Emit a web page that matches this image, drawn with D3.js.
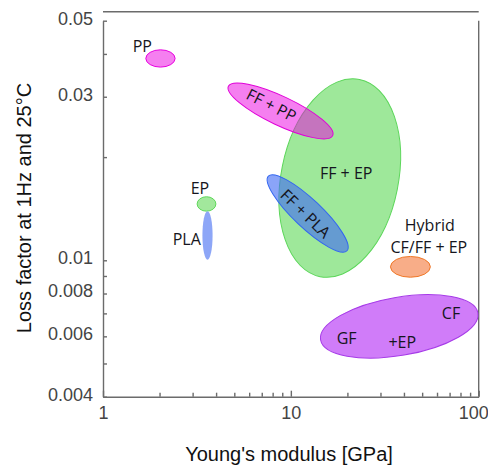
<!DOCTYPE html>
<html>
<head>
<meta charset="utf-8">
<script src="https://cdn.jsdelivr.net/npm/d3@7"></script>
<style>
  body { margin: 0; background: #fff; }
  svg { display: block; }
  .tick text { font-family: 'Liberation Sans', Arial, sans-serif; font-size: 18px; fill: #444; }
  .lbl { font-family: 'Open Sans', sans-serif; font-size: 16px; fill: #151520; }
  .title { font-family: 'Liberation Sans', Arial, sans-serif; font-size: 20px; fill: #111; }
</style>
</head>
<body>
<svg id="chart"></svg>
<script>
// material regions, each an ellipse given by the two ends of its long axis
const regions = ['FF + EP', 'PP', 'FF + PP', 'FF + PLA', 'EP', 'PLA', 'Hybrid', 'GF/CF + EP'];
const modulusA = [23.2, 1.69, 4.65, 7.59, 3.17, 3.6, 33.9, 14.4];
const lossA = [0.0337, 0.0388, 0.0322, 0.0176, 0.0146, 0.0139, 0.00957, 0.00586];
const modulusB = [14.3, 2.42, 16.7, 19.9, 3.99, 3.6, 55.3, 99.0];
const lossB = [0.00896, 0.0388, 0.0231, 0.01066, 0.0146, 0.01004, 0.00957, 0.00702];
const widthRatio = [0.583, 0.59, 0.25, 0.26, 0.77, 0.21, 0.52, 0.365];

// text annotations
const labelText = ['PP', 'EP', 'PLA', 'FF + EP', 'FF + PP', 'FF + PLA', 'Hybrid', 'CF/FF + EP', 'CF', 'GF', '+EP'];
const labelModulus = [1.62, 3.28, 2.79, 19.7, 7.89, 12.0, 54.9, 54.3, 71.2, 19.8, 39.2];
const labelLoss = [0.0421, 0.0163, 0.0115, 0.018, 0.0284, 0.0137, 0.0127, 0.01095, 0.007, 0.00592, 0.00577];
const labelAngle = [0, 0, 0, 0, 27, 44, 0, 0, 0, 0, 0];

const xLabeled = [1, 10, 100];
const yLabeled = [0.05, 0.03, 0.01, 0.008, 0.006, 0.004];

const styles = [
  { fill: '#9ee89a', stroke: '#5cd65a', opacity: 1 },
  { fill: 'rgb(235,0,225)', stroke: '#e800e0', opacity: 0.5 },
  { fill: 'rgb(235,0,225)', stroke: '#e000d8', opacity: 0.5 },
  { fill: 'rgb(66,108,244)', stroke: '#3366f0', opacity: 0.62 },
  { fill: '#a2e89c', stroke: '#5fd85a', opacity: 1 },
  { fill: '#8da6f7', stroke: 'none', opacity: 1 },
  { fill: '#f8ad88', stroke: '#f07828', opacity: 1 },
  { fill: '#d07cf9', stroke: '#a63ae8', opacity: 1 },
];

const width = 488, height = 468;
const margin = { top: 20.7, right: 9.3, bottom: 71.3, left: 103 };

const svg = d3.select('#chart').attr('width', width).attr('height', height);

const x = d3.scaleLog()
  .domain([1, 100])
  .range([margin.left, width - margin.right]);

const y = d3.scaleLog()
  .domain([0.004, 0.05])
  .range([height - margin.bottom, margin.top]);

const axisColor = '#6b6b6b';

// frame
svg.append('line')
  .attr('x1', x(1)).attr('x2', x(100))
  .attr('y1', margin.top - 9).attr('y2', margin.top - 9)
  .attr('stroke', axisColor).attr('stroke-width', 1.4);
svg.append('line')
  .attr('x1', x(100)).attr('x2', x(100))
  .attr('y1', y(0.05)).attr('y2', y(0.004))
  .attr('stroke', axisColor).attr('stroke-width', 1.4);

// ellipses
const shapes = regions.map((name, i) => {
  const x1 = x(modulusA[i]), y1 = y(lossA[i]);
  const x2 = x(modulusB[i]), y2 = y(lossB[i]);
  const a = Math.hypot(x2 - x1, y2 - y1) / 2;
  return {
    name,
    cx: (x1 + x2) / 2,
    cy: (y1 + y2) / 2,
    a,
    b: a * widthRatio[i],
    angle: Math.atan2(y2 - y1, x2 - x1) * 180 / Math.PI,
    style: styles[i],
  };
});

svg.append('g')
  .selectAll('ellipse')
  .data(shapes)
  .join('ellipse')
  .attr('cx', d => d.cx)
  .attr('cy', d => d.cy)
  .attr('rx', d => d.a)
  .attr('ry', d => d.b)
  .attr('transform', d => `rotate(${d.angle} ${d.cx} ${d.cy})`)
  .attr('fill', d => d.style.fill)
  .attr('fill-opacity', d => d.style.opacity)
  .attr('stroke', d => d.style.stroke)
  .attr('stroke-width', 1);

// axes
const xAxis = svg.append('g')
  .attr('transform', `translate(0,${y(0.004)})`)
  .call(d3.axisBottom(x)
    .ticks(10)
    .tickSize(-4)
    .tickSizeOuter(0)
    .tickPadding(10)
    .tickFormat(d => xLabeled.includes(d) ? d3.format('d')(d) : ''));

xAxis.selectAll('.tick line')
  .attr('y2', d => xLabeled.includes(d) ? -6 : -4);
xAxis.selectAll('.tick text')
  .filter(d => d === 100)
  .attr('text-anchor', 'end')
  .attr('x', 9.5);

const yAxis = svg.append('g')
  .attr('transform', `translate(${x(1)},0)`)
  .call(d3.axisLeft(y)
    .ticks(10)
    .tickSize(-4)
    .tickSizeOuter(0)
    .tickPadding(10)
    .tickFormat(d => yLabeled.some(v => Math.abs(v - d) < 1e-9) ? String(+d.toPrecision(3)) : ''));

yAxis.selectAll('.tick text').attr('dy', '0.19em');

svg.selectAll('.domain, .tick line')
  .attr('stroke', axisColor)
  .attr('stroke-width', 1.4);

// labels
svg.append('g')
  .selectAll('text')
  .data(labelText)
  .join('text')
  .attr('class', 'lbl')
  .attr('text-anchor', 'middle')
  .attr('dominant-baseline', 'central')
  .attr('transform', (d, i) => `translate(${x(labelModulus[i])},${y(labelLoss[i])}) rotate(${labelAngle[i]})`)
  .text(d => d);

// axis titles
svg.append('text')
  .attr('class', 'title')
  .attr('text-anchor', 'middle')
  .attr('x', 289)
  .attr('y', 461)
  .text("Young's modulus [GPa]");

svg.append('text')
  .attr('class', 'title')
  .attr('text-anchor', 'middle')
  .attr('transform', 'translate(31,208) rotate(-90)')
  .text('Loss factor at 1Hz and 25°C');
</script>
</body>
</html>
